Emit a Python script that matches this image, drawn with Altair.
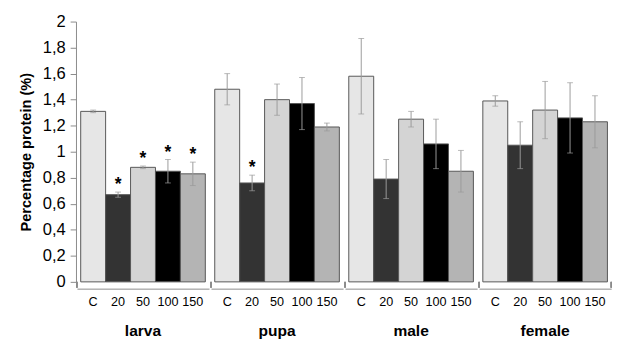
import altair as alt
import pandas as pd

groups = ["larva", "pupa", "male", "female"]
doses = ["C", "20", "50", "100", "150"]

larva_mean = [1.31, 0.67, 0.88, 0.85, 0.83]
larva_err = [0.01, 0.02, 0.01, 0.09, 0.09]
larva_sig = [False, True, True, True, True]

pupa_mean = [1.48, 0.76, 1.40, 1.37, 1.19]
pupa_err = [0.12, 0.06, 0.12, 0.20, 0.03]
pupa_sig = [False, True, False, False, False]

male_mean = [1.58, 0.79, 1.25, 1.06, 0.85]
male_err = [0.29, 0.15, 0.06, 0.19, 0.16]
male_sig = [False, False, False, False, False]

female_mean = [1.39, 1.05, 1.32, 1.26, 1.23]
female_err = [0.04, 0.18, 0.22, 0.27, 0.20]
female_sig = [False, False, False, False, False]

dose_colors = ["#e6e6e6", "#333333", "#d4d4d4", "#000000", "#b4b4b4"]

series = {
    "larva": (larva_mean, larva_err, larva_sig),
    "pupa": (pupa_mean, pupa_err, pupa_sig),
    "male": (male_mean, male_err, male_sig),
    "female": (female_mean, female_err, female_sig),
}
rows = []
for g in groups:
    m, e, s = series[g]
    for d, mv, ev, sv in zip(doses, m, e, s):
        rows.append({"group": g, "dose": d, "mean": mv, "lo": mv - ev,
                     "hi": mv + ev, "sig": sv})
df = pd.DataFrame(rows)

W, H = 136, 268
ytitle = "Percentage protein (%)"
xenc = alt.X("dose:N", sort=doses,
             scale=alt.Scale(paddingInner=0, paddingOuter=0.15), title=None)
yscale = alt.Scale(domain=[0, 2])

bars = alt.Chart().mark_bar(stroke="#555555", strokeWidth=1).encode(
    x=xenc,
    y=alt.Y("mean:Q", scale=yscale, title=ytitle),
    fill=alt.Fill("dose:N", scale=alt.Scale(domain=doses, range=dose_colors),
                  legend=None),
)
err = alt.Chart().mark_rule(color="#9a9a9a", strokeWidth=1).encode(
    x=xenc, y=alt.Y("lo:Q", scale=yscale, title=ytitle), y2="hi:Q")
cap_hi = alt.Chart().mark_tick(color="#9a9a9a", size=6, thickness=1).encode(
    x=xenc, y=alt.Y("hi:Q", scale=yscale, title=ytitle))
cap_lo = alt.Chart().mark_tick(color="#9a9a9a", size=6, thickness=1).encode(
    x=xenc, y=alt.Y("lo:Q", scale=yscale, title=ytitle))
stars = alt.Chart().mark_text(text="*", fontSize=18, fontWeight="bold",
                              baseline="middle", dy=-7, color="#000").encode(
    x=xenc, y=alt.Y("hi:Q", scale=yscale, title=ytitle)
).transform_filter("datum.sig")
sep_l = alt.Chart().mark_rule(color="#888888").encode(
    x=alt.value(0), y=alt.value(H), y2=alt.value(H + 6))
sep_r = alt.Chart().mark_rule(color="#888888").encode(
    x=alt.value(W), y=alt.value(H), y2=alt.value(H + 6)
).transform_filter("datum.group == 'female'")

layer = alt.layer(bars, err, cap_hi, cap_lo, stars, sep_l, sep_r, data=df).properties(
    width=W, height=H)

chart = layer.facet(
    column=alt.Column("group:N", sort=groups, title=None,
                      header=alt.Header(labelOrient="bottom", labelFontSize=16,
                                        labelFontWeight="bold", labelColor="#000",
                                        labelPadding=16, labelFont="Liberation Sans")),
    spacing=0,
).properties(padding={"left": 11, "top": 0, "right": 5, "bottom": 0}
).configure(font="Liberation Sans"
).configure_view(stroke=None
).configure_axisX(labelAngle=0, ticks=False, domainColor="#888888",
                  labelFontSize=13, labelColor="#000", labelPadding=7
).configure_axisY(grid=False, labelFontSize=17, labelColor="#000",
                  titleFontSize=15, titleFontWeight="bold", titleColor="#000",
                  tickSize=6, tickColor="#888888", domainColor="#888888",
                  tickCount=10, labelPadding=5, titlePadding=9,
                  labelExpr="replace(format(datum.value, '.1~f'), '.', ',')")

chart.save("out.html", embed_options={"renderer": "svg", "actions": False})
